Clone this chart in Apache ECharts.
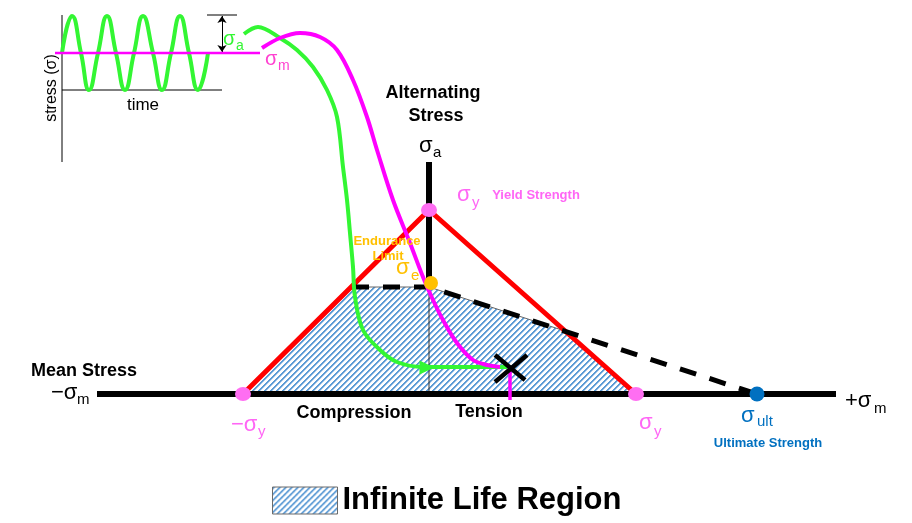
<!DOCTYPE html>
<html>
<head>
<meta charset="utf-8">
<title>Haigh Diagram</title>
<script src="https://cdn.jsdelivr.net/npm/echarts@6/dist/echarts.min.js"></script>
<style>
    html, body { margin: 0; padding: 0; background: #fff; }
    #chart { width: 912px; height: 523px; }
</style>
</head>
<body>
<div id="chart"></div>
<script>
'use strict';

/*  Haigh diagram - data in plot units, origin where the two stress axes cross  */

var meanAxis = [[-332, 0], [407, 0]];
var altAxisThick = [[0, 107], [0, 232]];
var altAxisThin = [[0, 0], [0, 107]];
var yieldLine = [[-186, 0], [0, 184], [207, 0]];
var goodmanLine = [[-77, 107], [0, 107], [328, 0]];
var infiniteLife = [[-186, 0], [-77, 107], [0, 107], [136, 63], [207, 0]];

var yieldPoints = [[-186, 0], [0, 184], [207, 0]];
var endurancePoint = [[2, 111]];
var ultimatePoint = [[328, 0]];

// sketched load paths from the inset down to the operating point
var alternatingPath = [[-185, 360], [-171, 367], [-149, 356], [-132, 344], [-116, 327], [-102, 304],
    [-92, 277], [-86, 227], [-82, 194], [-79, 161], [-76, 127], [-74, 97], [-66, 64], [-49, 44],
    [-32, 32], [-6, 27], [78, 27]];
var meanPath = [[-167, 346], [-149, 356], [-129, 361], [-109, 357], [-92, 344], [-76, 314],
    [-62, 277], [-52, 244], [-36, 194], [-19, 151], [-6, 117], [4, 94], [14, 74], [28, 51],
    [44, 34], [58, 29], [71, 27]];
var pathArrow = [[-2, 26.5]];
var meanDrop = [[81, 27], [81, -6]];
var crossA = [[66, 39], [96, 14]];
var crossB = [[66, 12], [98, 39]];

// inset: stress vs time
var insetStressAxis = [[-367, 232], [-367, 379]];
var insetTimeAxis = [[-367, 304], [-207, 304]];
var insetMeanLine = [[-374, 341], [-169, 341]];
var insetTopTick = [[-222, 379], [-192, 379]];
var insetMidTick = [[-214, 341], [-192, 341]];
var insetAmplitude = [[-207, 378], [-207, 342]];
var sineX = [-367, -357, -348, -340, -331, -322, -313, -304, -295, -286, -276, -267, -258, -249, -240, -231, -221];
var sineY = [341, 378, 341, 304, 341, 378, 341, 304, 341, 378, 341, 304, 341, 378, 341, 304, 341];

var legendName = 'Infinite Life Region';

(function (echarts) {

    var FONT = "'Liberation Sans', Arial, sans-serif";
    var GREEN = '#33f633',
        MAGENTA = '#ff00ff',
        PINK = '#ff66f5',
        RED = '#ff0000',
        ORANGE = '#ffc000',
        BLUE = '#0070c0';

    var Diagram = {
        chart: null,
        hatch: null,

        init: function () {
            this.hatch = {image: this.makeHatch(), repeat: 'repeat'};
            this.chart = echarts.init(document.getElementById('chart'), null, {renderer: 'canvas'});
            this.chart.setOption({
                animation: false,
                grid: {left: 0, right: 0, top: 0, bottom: 0},
                xAxis: {type: 'value', min: -429, max: 483, show: false},
                yAxis: {type: 'value', min: -129, max: 394, show: false},
                legend: {
                    data: [{
                        name: legendName,
                        icon: 'rect',
                        itemStyle: {color: this.hatch, borderColor: '#6b6b6b', borderWidth: 1}
                    }],
                    left: 267,
                    top: 480,
                    itemWidth: 65,
                    itemHeight: 27,
                    selectedMode: false,
                    textStyle: {fontSize: 31, fontWeight: 'bold', fontFamily: FONT, color: '#000'}
                },
                series: this.buildSeries(),
                graphic: this.buildLabels()
            });
        },

        // crisp pixel diagonal stripes like the original fill
        makeHatch: function () {
            var size = 6,
                c = document.createElement('canvas');
            c.width = size;
            c.height = size;
            var ctx = c.getContext('2d');
            ctx.fillStyle = '#fff';
            ctx.fillRect(0, 0, size, size);
            for (var i = 0; i < size; i++) {
                for (var j = 0; j < size; j++) {
                    var k = (i + j) % size;
                    if (k < 2) ctx.fillStyle = '#5b9bd5';
                    else if (k === 2) ctx.fillStyle = '#b4cfec';
                    else continue;
                    ctx.fillRect(i, j, 1, 1);
                }
            }
            return c;
        },

        seg: function (data, color, width, extra) {
            var s = {
                type: 'line',
                data: data,
                symbol: 'none',
                silent: true,
                lineStyle: {color: color, width: width, cap: 'butt'}
            };
            if (extra) Object.keys(extra).forEach(function (k) { s[k] = extra[k]; });
            return s;
        },

        dots: function (data, color, size) {
            return {
                type: 'scatter',
                data: data,
                symbolSize: size,
                silent: true,
                z: 6,
                itemStyle: {color: color, opacity: 1}
            };
        },

        buildSeries: function () {
            var seg = this.seg.bind(this),
                sine = sineX.map(function (x, i) { return [x, sineY[i]]; });

            return [
                // infinite life region
                {
                    type: 'line',
                    name: legendName,
                    data: infiniteLife,
                    symbol: 'none',
                    silent: true,
                    lineStyle: {color: '#666', width: 1},
                    areaStyle: {color: this.hatch, opacity: 1}
                },
                seg(altAxisThin, '#333', 1),
                seg(meanAxis, '#000', 6),
                seg(altAxisThick, '#000', 6),
                seg(yieldLine, RED, 5),
                seg(goodmanLine, '#000', 5, {lineStyle: {color: '#000', width: 5, type: [17, 14], cap: 'butt'}}),

                // inset
                seg(insetStressAxis, '#000', 1),
                seg(insetTimeAxis, '#000', 1),
                seg(insetTopTick, '#000', 1),
                seg(insetMidTick, '#000', 1),
                seg(sine, GREEN, 4, {smooth: true}),
                seg(insetMeanLine, MAGENTA, 2.5),
                {
                    type: 'lines',
                    coordinateSystem: 'cartesian2d',
                    silent: true,
                    symbol: ['arrow', 'arrow'],
                    symbolSize: 7,
                    lineStyle: {color: '#000', width: 1, opacity: 1},
                    data: [{coords: insetAmplitude}]
                },

                // load paths
                seg(alternatingPath, GREEN, 4, {smooth: 0.35}),
                seg(meanPath, MAGENTA, 4, {smooth: 0.35}),
                seg(meanDrop, MAGENTA, 3.5),
                {
                    type: 'scatter',
                    data: pathArrow,
                    symbol: 'triangle',
                    symbolSize: [14, 15],
                    symbolRotate: -90,
                    silent: true,
                    z: 6,
                    itemStyle: {color: GREEN, opacity: 1}
                },
                seg(crossA, '#000', 4.5),
                seg(crossB, '#000', 4.5),

                // strength points
                this.dots(yieldPoints, '#ff6ef2', [16, 14]),
                this.dots(endurancePoint, ORANGE, 14),
                this.dots(ultimatePoint, BLUE, 15)
            ];
        },

        txt: function (x, y, text, o) {
            o = o || {};
            var align = o.align || 'left';
            return {
                type: 'text',
                x: x,
                y: y,
                rotation: o.rotation || 0,
                silent: true,
                z: 100,
                style: {
                    text: text,
                    fill: o.color || '#000',
                    fontSize: o.size || 18,
                    fontWeight: o.bold ? 'bold' : 'normal',
                    fontFamily: FONT,
                    align: align,
                    textAlign: align,
                    verticalAlign: 'middle',
                    textVerticalAlign: 'middle'
                }
            };
        },

        buildLabels: function () {
            var txt = this.txt,
                items = [];

            // sigma symbols with subscripts: [main x, main y, main, sub x, sub y, sub, color, size]
            var sigmas = [
                [223, 39, 'σ', 236, 46, 'a', GREEN, 20],
                [265, 59, 'σ', 278, 66, 'm', '#ff40d0', 20],
                [419, 146, 'σ', 433, 153, 'a', '#000', 22],
                [457, 195, 'σ', 472, 203, 'y', PINK, 22],
                [396, 268, 'σ', 411, 276, 'e', ORANGE, 22],
                [51, 393, '−σ', 77, 400, 'm', '#000', 22],
                [231, 425, '−σ', 258, 432, 'y', PINK, 22],
                [639, 423, 'σ', 654, 432, 'y', PINK, 22],
                [845, 401, '+σ', 874, 409, 'm', '#000', 22],
                [741, 416, 'σ', 757, 422, 'ult', BLUE, 22]
            ];
            sigmas.forEach(function (s) {
                items.push(txt(s[0], s[1], s[2], {color: s[6], size: s[7]}));
                items.push(txt(s[3], s[4], s[5], {color: s[6], size: Math.round(s[7] * 0.68)}));
            });

            items.push(txt(433, 93, 'Alternating', {bold: true, align: 'center'}));
            items.push(txt(436, 116, 'Stress', {bold: true, align: 'center'}));
            items.push(txt(84, 371, 'Mean Stress', {bold: true, align: 'center'}));
            items.push(txt(354, 413, 'Compression', {bold: true, align: 'center'}));
            items.push(txt(489, 412, 'Tension', {bold: true, align: 'center'}));
            items.push(txt(536, 195, 'Yield Strength', {bold: true, size: 13, color: PINK, align: 'center'}));
            items.push(txt(768, 443, 'Ultimate Strength', {bold: true, size: 13, color: BLUE, align: 'center'}));
            items.push(txt(387, 241, 'Endurance', {bold: true, size: 13, color: ORANGE, align: 'center'}));
            items.push(txt(388, 256, 'Limit', {bold: true, size: 13, color: ORANGE, align: 'center'}));
            items.push(txt(143, 105, 'time', {size: 17, align: 'center'}));
            items.push(txt(52, 88, 'stress (σ)', {size: 16, align: 'center', rotation: Math.PI / 2}));

            return items;
        }
    };

    Diagram.init();

})(echarts);
</script>
</body>
</html>
